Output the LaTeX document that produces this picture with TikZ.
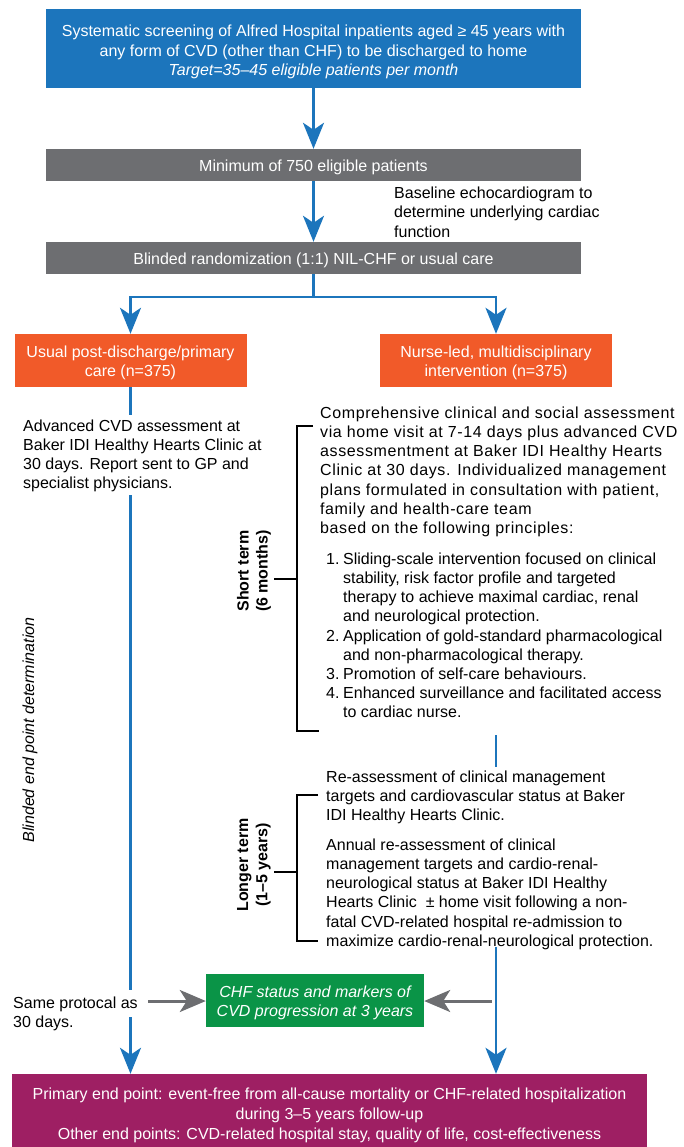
\documentclass[tikz,border=0pt]{standalone}
\usepackage{fontspec}
\setmainfont{Liberation Sans}
\newfontfamily\widefont[LetterSpace=3.8]{Liberation Sans}
\usetikzlibrary{arrows.meta}
\definecolor{cblue}{HTML}{1C75BC}
\definecolor{cgray}{HTML}{6D6E71}
\definecolor{corange}{HTML}{F15A29}
\definecolor{cgreen}{HTML}{0A9447}
\definecolor{cpurple}{HTML}{9E1F63}
\newcommand\fs{\fontsize{16}{19.2}\selectfont}
\newcommand\litem[1]{\makebox[17pt][l]{#1}}
\newcommand\lind{\hspace*{17pt}}
\newcommand\tp[1]{\rule{0pt}{#1}}
\begin{document}
\begin{tikzpicture}[x=1pt,y=-1pt,
 box/.style={inner sep=0pt, align=center, text=white, font=\fs},
 txt/.style={anchor=north west, inner sep=0pt, align=left, font=\fs},
 bline/.style={draw=cblue, line width=2.6pt},
 barr/.style={bline, -{Stealth[length=26pt,width=21pt,inset=7pt]}},
 garr/.style={draw=cgray, line width=3pt, -{Stealth[length=26pt,width=22pt,inset=7pt]}},
 brk/.style={draw=black, line width=1.2pt},
 vlbl/.style={rotate=90, align=center, inner sep=0pt},
 ]
\path[use as bounding box] (0,0) rectangle (683,1147);

% boxes
\node[box, fill=cblue, minimum width=535pt, minimum height=79pt] (scr) at (313.5,48.5)
  {\tp{18.7pt}Systematic screening of Alfred Hospital inpatients aged ≥ 45 years with\\
   any form of CVD (other than CHF) to be discharged to home\\
   \textit{Target=35–45 eligible patients per month}};
\node[box, fill=cgray, minimum width=535pt, minimum height=32pt] (min) at (313.5,165)
  {\tp{15.7pt}Minimum of 750 eligible patients};
\node[box, fill=cgray, minimum width=535pt, minimum height=32pt] (rand) at (313.5,258)
  {\tp{15.7pt}Blinded randomization (1:1) NIL-CHF or usual care};
\node[box, fill=corange, minimum width=232pt, minimum height=53pt] (usual) at (130.5,360.5)
  {\tp{16.7pt}Usual post-discharge/primary\\care (n=375)};
\node[box, fill=corange, minimum width=232pt, minimum height=53pt] (nurse) at (496,360.5)
  {\tp{16.7pt}Nurse-led, multidisciplinary\\intervention (n=375)};
\node[box, fill=cgreen, minimum width=218pt, minimum height=53pt, font=\fs\itshape] (chf) at (315,1000.5)
  {\tp{15.7pt}CHF status and markers of\\CVD progression at 3 years};
\node[box, fill=cpurple, minimum width=635pt, minimum height=73pt, font=\fontsize{16}{20}\selectfont] (end) at (329.5,1110.5)
  {\tp{21.7pt}Primary end point: event-free from all-cause mortality or CHF-related hospitalization\\
   during 3–5 years follow-up\\
   Other end points: CVD-related hospital stay, quality of life, cost-effectiveness};

% texts
\node[txt] (echo) at (394,185) {\strut Baseline echocardiogram to\\determine underlying cardiac\\function};
\node[txt] (adv) at (23,417.6) {\strut Advanced CVD assessment at\\Baker IDI Healthy Hearts Clinic at\\30 days. Report sent to GP and\\specialist physicians.};
\node[txt] (same) at (13,995) {\strut Same protocal as\\30 days.};
\node[txt, font=\fs\widefont] (comp) at (320,404.6) {\strut Comprehensive clinical and social assessment\\
  via home visit at 7-14 days plus advanced CVD\\
  assessmentment at Baker IDI Healthy Hearts\\
  Clinic at 30 days. Individualized management\\
  plans formulated in consultation with patient,\\
  family and health-care team\\
  based on the following principles:};
\node[txt] (list) at (326,550.6) {\strut\litem{1.}Sliding-scale intervention focused on clinical\\
  \lind stability, risk factor profile and targeted\\
  \lind therapy to achieve maximal cardiac, renal\\
  \lind and neurological protection.\\
  \litem{2.}Application of gold-standard pharmacological\\
  \lind and non-pharmacological therapy.\\
  \litem{3.}Promotion of self-care behaviours.\\
  \litem{4.}Enhanced surveillance and facilitated access\\
  \lind to cardiac nurse.};
\node[txt] (reass) at (326,768.6) {\strut Re-assessment of clinical management\\
  targets and cardiovascular status at Baker\\
  IDI Healthy Hearts Clinic.};
\node[txt] (annual) at (326,836.6) {\strut Annual re-assessment of clinical\\
  management targets and cardio-renal-\\
  neurological status at Baker IDI Healthy\\
  Hearts Clinic \ ± home visit following a non-\\
  fatal CVD-related hospital re-admission to\\
  maximize cardio-renal-neurological protection.};
\node[vlbl, font=\fs\bfseries] (shortlbl) at (254,571) {Short term\\(6 months)};
\node[vlbl, font=\fs\bfseries] (longlbl) at (254,865) {Longer term\\(1–5 years)};
\node[vlbl, font=\fs\itshape] (blind) at (30,730) {Blinded end point determination};

% brackets
\draw[brk] (313,426) -- (297,426) -- (297,731) -- (319,731);
\draw[brk] (274,579) -- (297,579);
\draw[brk] (318,795) -- (297,795) -- (297,941) -- (318,941);
\draw[brk] (274,872) -- (297,872);

% connectors
\coordinate (j) at (313.5,297);
\draw[barr] (scr) -- (min);
\draw[barr] (min) -- (rand);
\draw[bline] (rand) -- (j);
\draw[barr] (j) -| (usual);
\draw[barr] (j) -| (nurse);

\coordinate (l1) at (130.5,415);
\coordinate (l2) at (130.5,495);
\coordinate (l3) at (130.5,990);
\coordinate (l4) at (130.5,1017);
\draw[bline] (usual) -- (l1);
\draw[bline] (l2) -- (l3);
\draw[barr] (l4) -- (l4 |- end.north);

\coordinate (r1) at (496,735);
\coordinate (r2) at (496,767);
\coordinate (r3) at (496,947);
\draw[bline] (r1) -- (r2);
\draw[barr] (r3) -- (r3 |- end.north);

\coordinate (gl) at (148,1001);
\coordinate (gr) at (492,1001);
\draw[garr] (gl) -- (gl -| chf.west);
\draw[garr] (gr) -- (gr -| chf.east);
\end{tikzpicture}
\end{document}
